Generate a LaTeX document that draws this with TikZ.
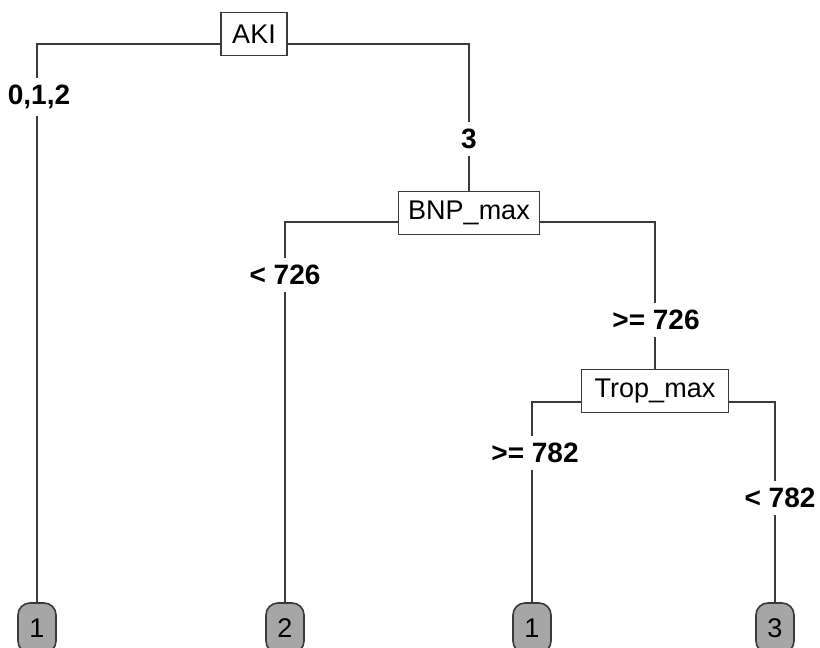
\documentclass[tikz,border=0pt]{standalone}
\usepackage{fontspec}
\setmainfont{Liberation Sans}
\usetikzlibrary{positioning}
\definecolor{linegray}{HTML}{3A3A3A}
\definecolor{leafgray}{HTML}{A6A6A6}
\tikzset{
  splitbox/.style={draw=linegray, line width=1.6pt, fill=white, minimum height=43pt, inner sep=0pt, font=\fontsize{27}{31}\selectfont},
  leafbox/.style={draw=linegray, line width=1.6pt, fill=leafgray, rounded corners=12pt, minimum width=38pt, minimum height=50pt, inner sep=0pt, font=\fontsize{27}{31}\selectfont},
  cutlabel/.style={font=\fontsize{28}{32}\selectfont\bfseries, inner xsep=4pt, inner ysep=7pt},
  branch/.style={draw=linegray, line width=1.6pt}
}

\begin{document}
\begin{tikzpicture}[x=1pt, y=-1pt]
  \useasboundingbox (0,0) rectangle (820,648);
  % split nodes
  \node[splitbox, minimum width=66pt] (aki) at (254,34) {AKI};
  \node[splitbox, minimum width=141pt] (bnp) at (469,213) {BNP\_max};
  \node[splitbox, minimum width=147pt] (trop) at (655,391) {Trop\_max};
  % leaves
  \node[leafbox] (leafA) at (37,628) {1};
  \node[leafbox] (leafB) at (285,628) {2};
  \node[leafbox] (leafC) at (532,628) {1};
  \node[leafbox] (leafD) at (775,628) {3};
  % cut labels
  \node[cutlabel] (cA) at (39,97) {0,1,2};
  \node[cutlabel] (cB) at (469,139) {3};
  \node[cutlabel] (cC) at (285,275) {< 726};
  \node[cutlabel] (cD) at (656,320) {>= 726};
  \node[cutlabel] (cE) at (535,453) {>= 782};
  \node[cutlabel] (cF) at (780,498) {< 782};
  % branches
  \draw[branch] ([yshift=-10pt]aki.west) -| (cA.north -| leafA);
  \draw[branch] (cA.south -| leafA) -- (leafA);
  \draw[branch] ([yshift=-10pt]aki.east) -| (cB.north -| bnp);
  \draw[branch] (cB.south -| bnp) -- (bnp);
  \draw[branch] ([yshift=-9pt]bnp.west) -| (cC.north -| leafB);
  \draw[branch] (cC.south -| leafB) -- (leafB);
  \draw[branch] ([yshift=-9pt]bnp.east) -| (cD.north -| trop);
  \draw[branch] (cD.south -| trop) -- (trop);
  \draw[branch] ([yshift=-11pt]trop.west) -| (cE.north -| leafC);
  \draw[branch] (cE.south -| leafC) -- (leafC);
  \draw[branch] ([yshift=-11pt]trop.east) -| (cF.north -| leafD);
  \draw[branch] (cF.south -| leafD) -- (leafD);
\end{tikzpicture}
\end{document}
